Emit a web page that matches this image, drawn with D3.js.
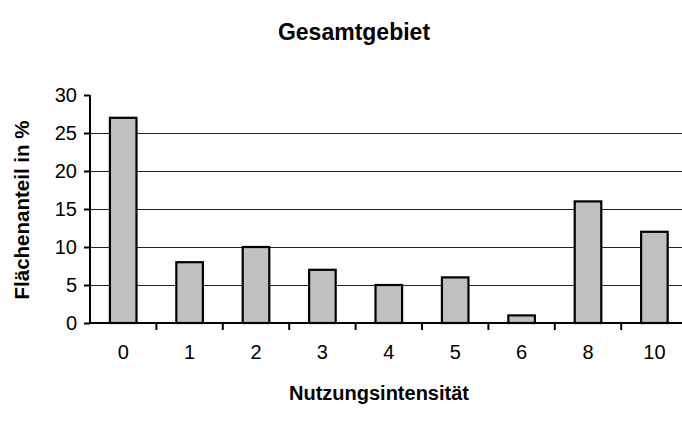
<!DOCTYPE html>
<html><head><meta charset="utf-8">
<script src="https://cdn.jsdelivr.net/npm/d3@7"></script>
<style>html,body{margin:0;padding:0;background:#fff;overflow:hidden}</style>
</head><body>
<svg id="c" width="682" height="428"></svg>
<script>
const categories = ["0","1","2","3","4","5","6","8","10"];
const values = [27, 8, 10, 7, 5, 6, 1, 16, 12];
const yTicks = [0, 5, 10, 15, 20, 25, 30];
const gridValues = [5, 10, 15, 20, 25];
const title = "Gesamtgebiet";
const xTitle = "Nutzungsintensität";
const yTitle = "Flächenanteil in %";

(function () {
const svg = d3.select("#c");
const font = "'Liberation Sans', Arial, sans-serif";
const pLeft = 90, pRight = 687.6, pTop = 95, pBottom = 323;

const x = d3.scaleBand().domain(categories).range([pLeft, pRight]).padding(0);
const y = d3.scaleLinear().domain([0, 30]).range([pBottom, pTop]);

// grid
svg.append("g").selectAll("line").data(gridValues).join("line")
  .attr("x1", pLeft).attr("x2", 682)
  .attr("y1", d => Math.round(y(d)) + 0.5).attr("y2", d => Math.round(y(d)) + 0.5)
  .attr("stroke", "#222").attr("stroke-width", 1);

// bars
const bw = x.bandwidth() * 0.4;
svg.append("g").selectAll("rect").data(values).join("rect")
  .attr("x", (d, i) => x(categories[i]) + x.bandwidth() / 2 - bw / 2)
  .attr("y", d => y(d))
  .attr("width", bw)
  .attr("height", d => y(0) - y(d))
  .attr("fill", "#c0c0c0").attr("stroke", "#000").attr("stroke-width", 2.2);

// y axis
const yAxis = d3.axisLeft(y).tickValues(yTicks).tickSize(6).tickPadding(7);
const gy = svg.append("g").attr("transform", `translate(${pLeft},0)`).call(yAxis);
gy.select(".domain").attr("stroke-width", 2).attr("d", `M0,${pTop}V${pBottom}`);
gy.selectAll(".tick line").attr("stroke-width", 2);
gy.selectAll("text").attr("font-family", font).attr("font-size", 20).attr("fill", "#000");

// x axis
const gx = svg.append("g").attr("transform", `translate(0,${pBottom})`);
gx.append("line").attr("x1", pLeft).attr("x2", 682).attr("stroke", "#000").attr("stroke-width", 2);
gx.selectAll("line.t").data(categories.slice(1)).join("line").attr("class", "t")
  .attr("x1", d => x(d)).attr("x2", d => x(d)).attr("y1", 0).attr("y2", 7)
  .attr("stroke", "#000").attr("stroke-width", 2);
gx.selectAll("text").data(categories).join("text")
  .attr("x", d => x(d) + x.bandwidth() / 2).attr("y", 36)
  .attr("text-anchor", "middle").attr("font-family", font).attr("font-size", 20)
  .text(d => d);

// titles
svg.append("text").attr("x", 354).attr("y", 40).attr("text-anchor", "middle")
  .attr("font-family", font).attr("font-weight", "bold").attr("font-size", 23).text(title);
svg.append("text").attr("x", 379).attr("y", 400).attr("text-anchor", "middle")
  .attr("font-family", font).attr("font-weight", "bold").attr("font-size", 20).text(xTitle);
svg.append("text").attr("transform", "translate(29,210) rotate(-90)").attr("text-anchor", "middle")
  .attr("font-family", font).attr("font-weight", "bold").attr("font-size", 20.5).text(yTitle);
})();
</script>
</body></html>
